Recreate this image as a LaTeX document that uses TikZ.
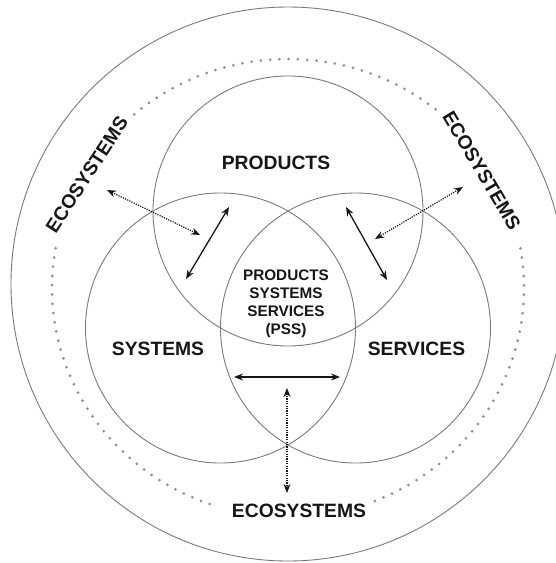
\documentclass[tikz,border=0pt]{standalone}
\usepackage{fontspec}
\setmainfont{Liberation Sans}
\usetikzlibrary{arrows.meta}
\definecolor{ringgray}{HTML}{7A7A7A}
\definecolor{dotgray}{HTML}{8E8E8E}
\definecolor{ink}{HTML}{161616}
\begin{document}
\begin{tikzpicture}[x=1pt,y=1pt,
  ring/.style={draw=ringgray, line width=0.9pt},
  dotring/.style={draw=dotgray, line width=3pt, line cap=round, dash pattern=on 0pt off 9.3pt},
  ringtext/.style={font=\fontsize{19.3}{20}\selectfont\bfseries, inner sep=0pt,
    text height=13.8pt, text depth=0pt, text=ink},
  centertext/.style={font=\fontsize{15.3}{18}\selectfont\bfseries, inner sep=0pt,
    align=center, text=ink},
  solidarrow/.style={draw=ink, line width=1.3pt,
    {Stealth[length=9pt,width=7pt]}-{Stealth[length=9pt,width=7pt]}},
  dotarrow/.style={draw=ink, line width=1.2pt, dash pattern=on 1.2pt off 1.2pt,
    {Stealth[length=9pt,width=7pt]}-{Stealth[length=9pt,width=7pt]}}
]
\clip (0,0) rectangle (556,-563);

% outer boundary
\draw[ring] (288,-284) circle[radius=277];

% dotted ecosystem ring, broken where its labels sit
\draw[dotring] (288,-288) ++(51.3:236 and 229)
  arc[start angle=51.3, end angle=132, x radius=236, y radius=229];
\draw[dotring] (288,-288) ++(170:236 and 229)
  arc[start angle=170, end angle=252.3, x radius=236, y radius=229];
\draw[dotring] (288,-288) ++(291.6:236 and 229)
  arc[start angle=291.6, end angle=371.8, x radius=236, y radius=229];

% the three overlapping sets
\draw[ring] (288,-211) circle[radius=135];
\draw[ring] (220.5,-328) circle[radius=135];
\draw[ring] (355.5,-328) circle[radius=135];

% labels
\node[ringtext] (prod) at (276,-163) {PRODUCTS};
\node[ringtext] (sys) at (158,-348.5) {SYSTEMS};
\node[ringtext] (serv) at (416.5,-348.5) {SERVICES};
\node[ringtext, rotate=57] (ecoL) at (86.5,-174.5) {ECOSYSTEMS};
\node[ringtext, rotate=-59.4] (ecoR) at (482,-170.5) {ECOSYSTEMS};
\node[ringtext] (ecoB) at (299,-511) {ECOSYSTEMS};
\node[centertext, anchor=north] (pss) at (286,-269.5) {PRODUCTS\\SYSTEMS\\SERVICES\\(PSS)};

% arrow end points
\coordinate (dl1) at (107,-190);
\coordinate (dl2) at (200,-235);
\coordinate (sl1) at (229,-207);
\coordinate (sl2) at (186,-279);
\coordinate (dr1) at (463,-187);
\coordinate (dr2) at (375,-239);
\coordinate (sr1) at (346,-207);
\coordinate (sr2) at (387,-280);
\coordinate (hb1) at (234,-377);
\coordinate (hb2) at (340,-377);
\coordinate (vb1) at (287,-388);
\coordinate (vb2) at (287,-493);

% exchanges between the sets and with the ecosystems
\draw[dotarrow] (dl1) -- (dl2);
\draw[solidarrow] (sl1) -- (sl2);
\draw[dotarrow] (dr1) -- (dr2);
\draw[solidarrow] (sr1) -- (sr2);
\draw[solidarrow] (hb1) -- (hb2);
\draw[dotarrow] (vb1) -- (vb2);
\end{tikzpicture}
\end{document}
